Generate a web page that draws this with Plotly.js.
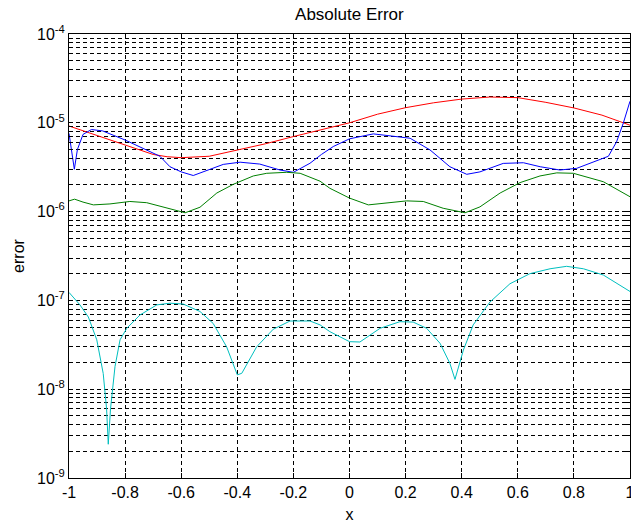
<!DOCTYPE html>
<html>
<head>
<meta charset="utf-8">
<script src="https://cdn.plot.ly/plotly-3.0.1.min.js"></script>
<style>html,body{margin:0;padding:0;background:#fff;}#chart{width:631px;height:523px;}</style>
</head>
<body>
<div id="chart"></div>
<script>
// ---- data ----
const redX = [-1,-0.9,-0.8,-0.7,-0.65,-0.6,-0.5,-0.4,-0.3,-0.2,-0.1,0,0.1,0.2,0.3,0.4,0.5,0.6,0.7,0.8,0.9,1];
const redY = [9.2e-6,7.2e-6,5.6e-6,4.4e-6,4.15e-6,4.05e-6,4.2e-6,4.9e-6,5.8e-6,7.0e-6,8.4e-6,1.0e-5,1.25e-5,1.48e-5,1.68e-5,1.85e-5,1.95e-5,1.92e-5,1.7e-5,1.47e-5,1.22e-5,9.4e-6];

const blueX = [-1,-0.99,-0.981,-0.97,-0.95,-0.92,-0.88,-0.8,-0.72,-0.676,-0.64,-0.6,-0.557,-0.5,-0.45,-0.39,-0.32,-0.248,-0.2,-0.141,-0.1,-0.058,0,0.085,0.156,0.216,0.287,0.358,0.418,0.465,0.548,0.62,0.68,0.75,0.81,0.9,0.923,0.952,0.976,1];
const blueY = [7.6e-6,4.5e-6,3.0e-6,5.0e-6,7.4e-6,8.4e-6,8.1e-6,6.4e-6,4.9e-6,4.2e-6,3.2e-6,2.8e-6,2.55e-6,3.0e-6,3.4e-6,3.6e-6,3.43e-6,2.94e-6,2.77e-6,3.5e-6,4.4e-6,5.4e-6,6.6e-6,7.5e-6,7.1e-6,6.7e-6,4.95e-6,3.2e-6,2.63e-6,2.8e-6,3.49e-6,3.55e-6,3.2e-6,2.94e-6,3.07e-6,3.9e-6,4.2e-6,6.1e-6,9.9e-6,1.75e-5];

const greenX = [-1,-0.98,-0.95,-0.913,-0.854,-0.783,-0.723,-0.652,-0.586,-0.533,-0.473,-0.414,-0.343,-0.295,-0.224,-0.176,-0.141,-0.105,-0.07,0,0.067,0.133,0.204,0.263,0.334,0.412,0.465,0.537,0.608,0.679,0.739,0.798,0.905,1];
const greenY = [1.32e-6,1.38e-6,1.28e-6,1.19e-6,1.22e-6,1.3e-6,1.26e-6,1.09e-6,9.7e-7,1.12e-6,1.62e-6,2.03e-6,2.52e-6,2.7e-6,2.77e-6,2.7e-6,2.45e-6,2.2e-6,1.83e-6,1.42e-6,1.19e-6,1.24e-6,1.32e-6,1.3e-6,1.09e-6,9.7e-7,1.13e-6,1.62e-6,2.12e-6,2.52e-6,2.73e-6,2.7e-6,2.17e-6,1.47e-6];

const cyanX = [-1,-0.961,-0.931,-0.901,-0.878,-0.866,-0.86,-0.852,-0.836,-0.818,-0.794,-0.747,-0.687,-0.64,-0.593,-0.533,-0.486,-0.438,-0.4,-0.384,-0.331,-0.272,-0.212,-0.141,-0.105,-0.07,0,0.037,0.109,0.18,0.227,0.275,0.323,0.358,0.376,0.406,0.441,0.501,0.572,0.643,0.715,0.774,0.834,0.905,1];
const cyanY = [1.23e-7,8.9e-8,6.5e-8,3.6e-8,1.5e-8,6e-9,2.4e-9,6e-9,1.8e-8,3.6e-8,4.85e-8,6.85e-8,8.9e-8,9.3e-8,9.1e-8,7.5e-8,5.5e-8,3.0e-8,1.45e-8,1.51e-8,3.0e-8,4.73e-8,5.86e-8,5.86e-8,5.3e-8,4.45e-8,3.43e-8,3.4e-8,4.85e-8,5.76e-8,5.7e-8,4.85e-8,3.28e-8,1.95e-8,1.29e-8,2.76e-8,5.3e-8,9.6e-8,1.54e-7,2.0e-7,2.27e-7,2.42e-7,2.27e-7,1.93e-7,1.26e-7];

const xTickVals = [-1,-0.8,-0.6,-0.4,-0.2,0,0.2,0.4,0.6,0.8,1];
const xTickText = ["-1","-0.8","-0.6","-0.4","-0.2","0","0.2","0.4","0.6","0.8","1"];
const yDecades = [-9,-8,-7,-6,-5,-4];
const yDecadeLabels = ["10<sup>-9</sup>","10<sup>-8</sup>","10<sup>-7</sup>","10<sup>-6</sup>","10<sup>-5</sup>","10<sup>-4</sup>"];
const titleText = "Absolute Error";
const xTitle = "x";
const yTitle = "error";

// build log tick positions (decades labelled, 2..9 grid only)
const yTickVals = [], yTickText = [];
yDecades.forEach((d, i) => {
  yTickVals.push(Math.pow(10, d)); yTickText.push(yDecadeLabels[i]);
  if (d < -4) for (let m = 2; m <= 9; m++) { yTickVals.push(m * Math.pow(10, d)); yTickText.push(""); }
});

const mk = (x, y, c) => ({x, y, type:'scatter', mode:'lines', line:{color:c, width:1}, hoverinfo:'skip'});
const traces = [
  mk(redX, redY, '#ff0000'),
  mk(blueX, blueY, '#0000ff'),
  mk(greenX, greenY, '#008000'),
  mk(cyanX, cyanY, '#00bfbf')
];

const font = {family:'"Liberation Sans", Arial, sans-serif', size:16, color:'#000'};
const layout = {
  width:631, height:523,
  margin:{l:69, r:1, t:34, b:45, pad:0},
  paper_bgcolor:'#fff', plot_bgcolor:'#fff',
  showlegend:false,
  font: font,
  title:{text:titleText, font:{family:font.family, size:17, color:'#000'}, x:0.5537, xanchor:'center', y:1-14/523, yanchor:'middle', yref:'container'},
  xaxis:{
    range:[-1,1], tickvals:xTickVals, ticktext:xTickText,
    showgrid:true, gridcolor:'#000', gridwidth:1, griddash:'4px,3px',
    showline:true, linecolor:'#000', linewidth:1, mirror:'ticks',
    ticks:'inside', ticklen:5, tickcolor:'#000', zeroline:false,
    tickfont:font, ticklabeloverflow:'allow',
    title:{text:xTitle, font:font, standoff:8}
  },
  yaxis:{
    type:'log', range:[-9,-4], tickvals:yTickVals, ticktext:yTickText,
    showgrid:true, gridcolor:'#000', gridwidth:1, griddash:'4px,3px',
    showline:true, linecolor:'#000', linewidth:1, mirror:'ticks',
    ticks:'inside', ticklen:4, tickcolor:'#000', zeroline:false,
    tickfont:font, ticklabeloverflow:'allow',
    title:{text:yTitle, font:font, standoff:8}
  }
};
Plotly.newPlot('chart', traces, layout, {staticPlot:true, displayModeBar:false});
</script>
</body>
</html>
